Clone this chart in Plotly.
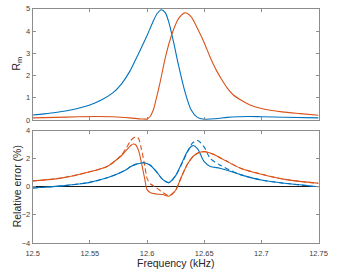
import plotly.graph_objects as go

# ---------------- data ----------------
# Top panel: R_m vs frequency (kHz)
f_top_blue = [12.500, 12.510, 12.520, 12.530, 12.540, 12.550, 12.560, 12.570, 12.5775, 12.585,
              12.590, 12.595, 12.600, 12.605, 12.609, 12.6125, 12.616, 12.619, 12.623, 12.6275,
              12.633, 12.6386, 12.644, 12.650, 12.660, 12.670, 12.680, 12.690, 12.700, 12.720, 12.750]
r_top_blue = [0.23, 0.28, 0.34, 0.42, 0.53, 0.68, 0.90, 1.22, 1.62, 2.20,
              2.72, 3.25, 3.80, 4.40, 4.80, 4.96, 4.82, 4.40, 3.55, 2.47,
              1.30, 0.45, 0.12, 0.04, 0.06, 0.12, 0.15, 0.16, 0.15, 0.13, 0.10]

f_top_orange = [12.500, 12.520, 12.540, 12.555, 12.570, 12.585, 12.595, 12.600, 12.6025, 12.6053,
                12.608, 12.611, 12.6164, 12.622, 12.6275, 12.633, 12.6386, 12.644, 12.650, 12.655,
                12.661, 12.665, 12.670, 12.675, 12.682, 12.690, 12.701, 12.718, 12.734, 12.750]
r_top_orange = [0.10, 0.12, 0.15, 0.16, 0.15, 0.10, 0.05, 0.05, 0.15, 0.43,
                0.95, 1.60, 2.90, 3.90, 4.56, 4.82, 4.64, 4.13, 3.48, 2.85,
                2.20, 1.85, 1.45, 1.15, 0.90, 0.68, 0.51, 0.37, 0.29, 0.22]

# Bottom panel: relative error (%)
f_err_blue = [12.500, 12.510, 12.526, 12.540, 12.549, 12.565, 12.575, 12.5817, 12.5858, 12.590,
              12.597, 12.6025, 12.608, 12.6136, 12.619, 12.6247, 12.6303, 12.6358, 12.640, 12.6442,
              12.650, 12.6553, 12.6636, 12.669, 12.6817, 12.700, 12.7206, 12.750]
e_blue_solid = [-0.08, -0.03, 0.07, 0.20, 0.30, 0.64, 0.95, 1.22, 1.45, 1.60,
                1.72, 1.56, 1.10, 0.53, 0.30, 0.76, 1.68, 2.60, 2.94, 2.71,
                1.79, 1.45, 1.33, 1.20, 0.87, 0.48, 0.25, 0.00]
e_blue_dash = [-0.08, -0.03, 0.07, 0.20, 0.30, 0.64, 0.95, 1.22, 1.45, 1.60,
               1.72, 1.56, 1.10, 0.53, 0.30, 0.76, 1.62, 2.55, 3.15, 3.30,
               2.83, 2.02, 1.56, 1.33, 0.87, 0.48, 0.25, 0.00]

f_err_orange = [12.500, 12.526, 12.549, 12.565, 12.573, 12.578, 12.5817, 12.5858, 12.588, 12.590,
                12.5925, 12.595, 12.598, 12.600, 12.603, 12.608, 12.6136, 12.619, 12.6247, 12.6303,
                12.6358, 12.6414, 12.647, 12.651, 12.658, 12.665, 12.669, 12.6817, 12.700, 12.7206, 12.750]
e_orange_solid = [0.42, 0.64, 1.05, 1.45, 1.91, 2.25, 2.60, 2.95, 3.05, 3.00,
                  2.60, 1.75, 0.55, -0.20, -0.42, -0.51, -0.55, -0.67, -0.28, 0.76,
                  1.68, 2.25, 2.48, 2.50, 2.32, 2.02, 1.85, 1.33, 0.90, 0.53, 0.25]
e_orange_dash = [0.42, 0.64, 1.05, 1.45, 1.91, 2.30, 2.75, 3.30, 3.48, 3.55,
                 3.45, 2.70, 1.50, 0.60, 0.20, -0.05, -0.40, -0.62, -0.28, 0.76,
                 1.68, 2.25, 2.48, 2.50, 2.32, 2.02, 1.85, 1.33, 0.90, 0.53, 0.25]

x_ticks = [12.5, 12.55, 12.6, 12.65, 12.7, 12.75]
x_ticklabels = ["12.5", "12.55", "12.6", "12.65", "12.7", "12.75"]
top_yticks = [0, 1, 2, 3, 4, 5]
bot_yticks = [-4, -2, 0, 2, 4]

BLUE = "#0072BD"
ORANGE = "#D95319"
W, H = 339, 275

fig = go.Figure()

def add(x, y, color, dash, xa, ya):
    fig.add_trace(go.Scatter(x=x, y=y, mode="lines", xaxis=xa, yaxis=ya,
                             line=dict(color=color, width=1.1, dash=dash, shape="spline",
                                       smoothing=0.8),
                             hoverinfo="skip", showlegend=False))

add(f_top_blue, r_top_blue, BLUE, "solid", "x", "y")
add(f_top_orange, r_top_orange, ORANGE, "solid", "x", "y")

add(f_err_blue, e_blue_dash, BLUE, "5px,3px", "x2", "y2")
add(f_err_orange, e_orange_dash, ORANGE, "5px,3px", "x2", "y2")
add(f_err_blue, e_blue_solid, BLUE, "solid", "x2", "y2")
add(f_err_orange, e_orange_solid, ORANGE, "solid", "x2", "y2")

x0, x1 = 27 / W, 327 / W
axcommon = dict(showline=True, linecolor="#8c8c8c", linewidth=1, mirror="ticks",
                ticks="inside", ticklen=3, tickcolor="#8c8c8c", showgrid=False,
                tickfont=dict(family="Liberation Sans, Arial, sans-serif", size=7.5, color="#404040"))

fig.update_layout(
    width=W, height=H,
    margin=dict(l=0, r=0, t=0, b=0),
    paper_bgcolor="white", plot_bgcolor="white",
    xaxis=dict(domain=[x0, x1], range=[12.5, 12.75], tickvals=x_ticks,
               showticklabels=False, anchor="y", zeroline=False, **axcommon),
    yaxis=dict(domain=[1 - 120 / H, 1 - 5 / H], range=[0, 5], tickvals=top_yticks,
               anchor="x", zeroline=False, **axcommon),
    xaxis2=dict(domain=[x0, x1], range=[12.5, 12.75], tickvals=x_ticks,
                ticktext=x_ticklabels, anchor="y2", zeroline=False,
                ticklabelstandoff=3, **axcommon),
    yaxis2=dict(domain=[1 - 247 / H, 1 - 131 / H], range=[-4, 4], tickvals=bot_yticks,
                anchor="x2", zeroline=True, zerolinecolor="#1a1a1a", zerolinewidth=1.3,
                **axcommon),
)

lab_font = dict(family="Liberation Sans, Arial, sans-serif", size=10.5, color="#262626")
fig.add_annotation(text="R<sub>m</sub>", x=10 / W, y=1 - 62 / H, xref="paper", yref="paper",
                   textangle=-90, showarrow=False, font=lab_font, xanchor="center", yanchor="middle")
fig.add_annotation(text="Relative error (%)", x=10 / W, y=1 - 189 / H, xref="paper", yref="paper",
                   textangle=-90, showarrow=False, font=lab_font, xanchor="center", yanchor="middle")
fig.add_annotation(text="Frequency (kHz)", x=177 / W, y=1 - 268 / H, xref="paper", yref="paper",
                   showarrow=False, font=lab_font, xanchor="center", yanchor="middle")

fig.write_html("out.html", config={"displayModeBar": False},
               post_script="document.body.style.margin='0px';document.body.style.overflow='hidden';")
